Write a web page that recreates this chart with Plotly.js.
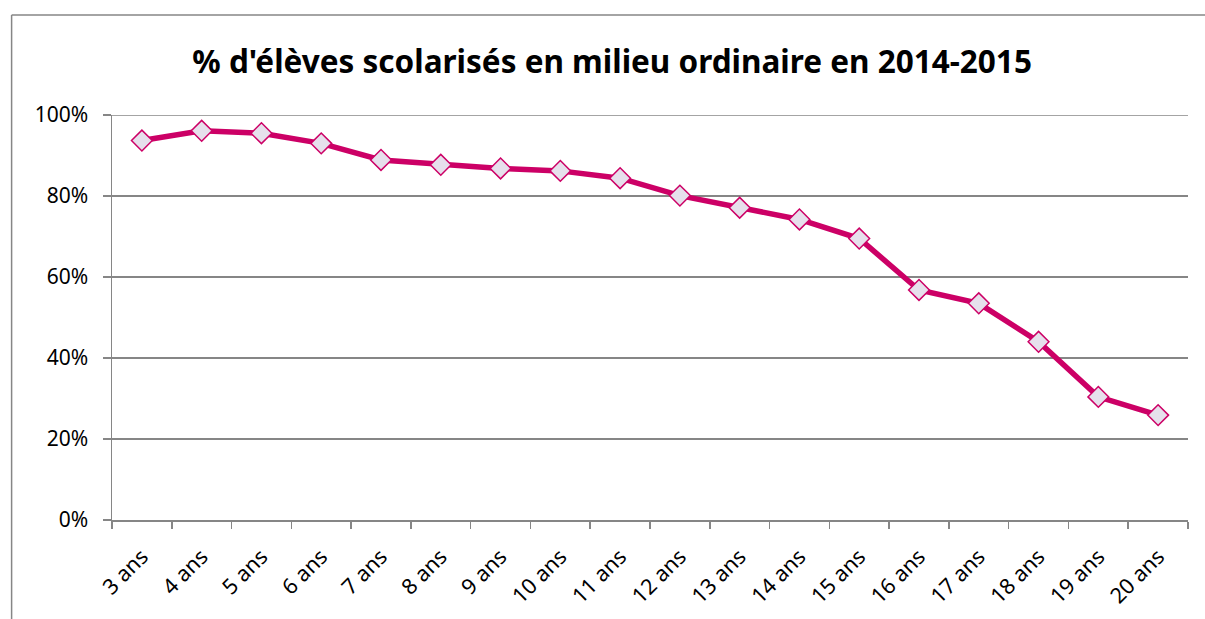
<!DOCTYPE html>
<html>
<head>
<meta charset="utf-8">
<script src="https://cdn.plot.ly/plotly-3.0.1.min.js"></script>
<style>html,body{margin:0;padding:0;background:#fff;}#chart{width:1205px;height:619px;}</style>
</head>
<body>
<div id="chart"></div>
<script>
const categories = ["3 ans","4 ans","5 ans","6 ans","7 ans","8 ans","9 ans","10 ans","11 ans","12 ans","13 ans","14 ans","15 ans","16 ans","17 ans","18 ans","19 ans","20 ans"];
const values = [0.937,0.961,0.955,0.930,0.889,0.877,0.868,0.862,0.844,0.801,0.771,0.742,0.695,0.568,0.535,0.440,0.304,0.259];
const yTicks = [0,0.2,0.4,0.6,0.8,1.0];
const yTickLabels = ["0%","20%","40%","60%","80%","100%"];
const titleText = "% d'élèves scolarisés en milieu ordinaire en 2014-2015";

const trace = {
  x: categories, y: values, type: "scatter", mode: "lines+markers",
  line: {color: "#CC0066", width: 5.5},
  marker: {symbol: "diamond", size: 16, color: "#E6E0EC", line: {color: "#CC0066", width: 1.5}},
  hoverinfo: "skip", cliponaxis: false
};
const layout = {
  width: 1205, height: 619,
  margin: {l: 112, r: 17, t: 115, b: 99},
  paper_bgcolor: "#ffffff", plot_bgcolor: "#ffffff",
  font: {family: "Noto Sans, sans-serif", color: "#000"},
  title: {text: "<b>" + titleText + "</b>", x: 0.508, xanchor: "center", y: 0.9, yanchor: "middle", font: {size: 31.5, family: "Noto Sans, sans-serif", color: "#000"}},
  showlegend: false,
  xaxis: {
    type: "category", tickangle: -45, tickfont: {size: 21.5},
    showline: true, linecolor: "#868686", linewidth: 1.5,
    ticks: "outside", tickson: "boundaries", ticklen: 7, tickcolor: "#868686", tickwidth: 1.5,
    ticklabelstandoff: 14,
    showgrid: false, range: [-0.5, 17.5], fixedrange: true
  },
  yaxis: {
    range: [0, 1], tickvals: yTicks, ticktext: yTickLabels, tickfont: {size: 21},
    showline: true, linecolor: "#868686", linewidth: 1.5,
    ticks: "outside", ticklen: 8, tickcolor: "#868686", tickwidth: 1.5,
    ticklabelstandoff: 10,
    showgrid: true, gridcolor: "#868686", gridwidth: 1.5, zeroline: false, fixedrange: true
  },
  shapes: [
    {type: "line", xref: "paper", yref: "y", x0: 0, x1: 1, y0: 1, y1: 1, layer: "below", line: {color: "#868686", width: 1.5}},
    {type: "line", xref: "paper", yref: "paper", x0: -0.0933, x1: 1.2, y0: 1.247, y1: 1.247, line: {color: "#868686", width: 1.5}},
    {type: "line", xref: "paper", yref: "paper", x0: -0.0933, x1: -0.0933, y0: 1.247, y1: -0.5, line: {color: "#868686", width: 1.5}}
  ]
};
Plotly.newPlot("chart", [trace], layout, {displayModeBar: false, staticPlot: true});
</script>
</body>
</html>
